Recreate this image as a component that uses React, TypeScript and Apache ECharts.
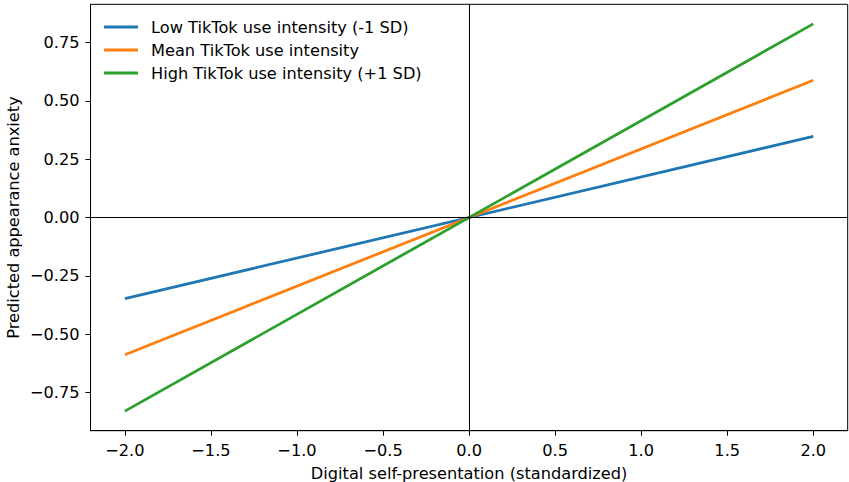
import React, { useEffect, useRef } from "react";
import * as echarts from "echarts";

const xValues = [-2, 2];
const lowValues = [-0.348, 0.348];
const meanValues = [-0.589, 0.589];
const highValues = [-0.831, 0.831];
const seriesNames = [
  "Low TikTok use intensity (-1 SD)",
  "Mean TikTok use intensity",
  "High TikTok use intensity (+1 SD)",
];
const xTicks = [-2, -1.5, -1, -0.5, 0, 0.5, 1, 1.5, 2];
const yTicks = [-0.75, -0.5, -0.25, 0, 0.25, 0.5, 0.75];
const colors = ["#1f77b4", "#ff7f0e", "#2ca02c"];

const FONT = "DejaVu Sans";
const FS = 16.2;
const minus = (s: string) => s.replace("-", "\u2212");

export default function App() {
  const ref = useRef<HTMLDivElement>(null);
  useEffect(() => {
    if (!ref.current) return;
    const chart = echarts.init(ref.current, undefined, { renderer: "svg" });
    const mk = (vals: number[]) => xValues.map((x, i) => [x, vals[i]]);
    const data = [lowValues, meanValues, highValues];
    chart.setOption({
      animation: false,
      textStyle: { fontFamily: FONT },
      grid: {
        left: 90.5,
        right: 1.3,
        top: 4.3,
        bottom: 51.3,
        containLabel: false,
        outerBoundsMode: "none",
        show: true,
        borderColor: "#000",
        borderWidth: 1,
        backgroundColor: "transparent",
      },
      legend: {
        orient: "vertical",
        left: 104,
        top: 17.5,
        padding: 0,
        itemWidth: 34,
        itemHeight: 3,
        itemGap: 4,
        icon: "rect",
        textStyle: {
          fontFamily: FONT,
          fontSize: FS,
          color: "#000",
          lineHeight: 19,
          padding: [0, 0, 0, 8],
        },
        data: seriesNames,
      },
      xAxis: {
        type: "value",
        min: -2.2,
        max: 2.2,
        name: "Digital self-presentation (standardized)",
        nameLocation: "middle",
        nameGap: 35,
        nameMoveOverlap: false,
        nameTextStyle: { fontFamily: FONT, fontSize: FS, color: "#000" },
        axisLine: { show: true, onZero: false, lineStyle: { color: "#000", width: 1 } },
        axisTick: {
          show: true,
          length: 5,
          lineStyle: { color: "#000", width: 1 },
          customValues: xTicks,
        },
        axisLabel: {
          fontFamily: FONT,
          fontSize: FS,
          color: "#000",
          margin: 12,
          customValues: xTicks,
          formatter: (v: number) => minus(v.toFixed(1)),
        },
        splitLine: { show: false },
      },
      yAxis: {
        type: "value",
        min: -0.915,
        max: 0.915,
        name: "Predicted appearance anxiety",
        nameLocation: "middle",
        nameGap: 69.5,
        nameMoveOverlap: false,
        nameRotate: 90,
        nameTextStyle: { fontFamily: FONT, fontSize: FS, color: "#000" },
        axisLine: { show: true, onZero: false, lineStyle: { color: "#000", width: 1 } },
        axisTick: {
          show: true,
          length: 5,
          lineStyle: { color: "#000", width: 1 },
          customValues: yTicks,
        },
        axisLabel: {
          fontFamily: FONT,
          fontSize: FS,
          color: "#000",
          margin: 11,
          customValues: yTicks,
          formatter: (v: number) => minus(v.toFixed(2)),
        },
        splitLine: { show: false },
      },
      series: [
        ...seriesNames.map((name, i) => ({
          name,
          type: "line",
          data: mk(data[i]),
          showSymbol: false,
          symbol: "none",
          lineStyle: { color: colors[i], width: 2.8 },
          itemStyle: { color: colors[i] },
          z: 3,
        })),
        {
          name: "axes0",
          type: "line",
          data: [],
          silent: true,
          markLine: {
            silent: true,
            symbol: "none",
            label: { show: false },
            lineStyle: { color: "#000", width: 1, type: "solid" },
            data: [{ yAxis: 0 }, { xAxis: 0 }],
          },
          z: 2,
        },
      ],
    });
    return () => chart.dispose();
  }, []);
  return (
    <div
      ref={ref}
      style={{ position: "fixed", left: 0, top: 0, width: 849, height: 482, background: "#fff" }}
    />
  );
}
